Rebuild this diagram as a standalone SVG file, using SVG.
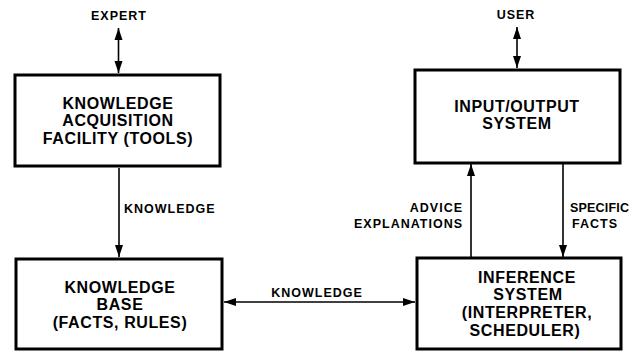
<svg xmlns="http://www.w3.org/2000/svg" width="632" height="353" viewBox="0 0 632 353">
<style>
.box{fill:#fff;stroke:#000;stroke-width:3}
.t{font-family:"Liberation Sans",Arial,sans-serif;font-weight:bold;font-size:16px;letter-spacing:0.6px;text-anchor:middle;fill:#000}
.l{font-family:"Liberation Sans",Arial,sans-serif;font-weight:bold;font-size:12.5px;letter-spacing:1px;fill:#000}
.c{fill:none;stroke:#000;stroke-width:1.6}
</style>
<defs>
<marker id="ah" markerUnits="userSpaceOnUse" markerWidth="12" markerHeight="10" viewBox="0 0 12 10" refX="12" refY="5" orient="auto-start-reverse">
<path d="M0,1 L12,5 L0,9 Z" fill="#000"/>
</marker>
</defs>
<rect width="632" height="353" fill="#fff"/>
<g id="connectors">
<line class="c" x1="118.5" y1="28" x2="118.5" y2="73" marker-start="url(#ah)" marker-end="url(#ah)"/>
<line class="c" x1="119" y1="168" x2="119" y2="257" marker-end="url(#ah)"/>
<line class="c" x1="224" y1="302" x2="415" y2="302" marker-start="url(#ah)" marker-end="url(#ah)"/>
<line class="c" x1="517" y1="27" x2="517" y2="68" marker-start="url(#ah)" marker-end="url(#ah)"/>
<line class="c" x1="471" y1="257" x2="471" y2="164" marker-end="url(#ah)"/>
<line class="c" x1="563" y1="164" x2="563" y2="257" marker-end="url(#ah)"/>
<text class="l" x="124" y="213">KNOWLEDGE</text>
<text class="l" x="317" y="297" text-anchor="middle">KNOWLEDGE</text>
<text class="l" x="463" y="212" text-anchor="end">ADVICE</text>
<text class="l" x="463" y="228" text-anchor="end">EXPLANATIONS</text>
<text class="l" x="570" y="212" style="letter-spacing:0.2px">SPECIFIC</text>
<text class="l" x="572" y="228">FACTS</text>
</g>
<g id="expert">
<text class="l" x="119" y="20" text-anchor="middle">EXPERT</text>
</g>
<g id="user">
<text class="l" x="516" y="19" text-anchor="middle">USER</text>
</g>
<g id="acquisition">
<rect class="box" x="15" y="75" width="205" height="91"/>
<text class="t" x="118" y="109">KNOWLEDGE</text>
<text class="t" x="118" y="126">ACQUISITION</text>
<text class="t" x="118" y="144">FACILITY (TOOLS)</text>
</g>
<g id="knowledge-base">
<rect class="box" x="16" y="259" width="206" height="90"/>
<text class="t" x="120" y="293">KNOWLEDGE</text>
<text class="t" x="120" y="310">BASE</text>
<text class="t" x="120" y="328">(FACTS, RULES)</text>
</g>
<g id="io-system">
<rect class="box" x="415" y="70" width="205" height="93"/>
<text class="t" x="517" y="112">INPUT/OUTPUT</text>
<text class="t" x="517" y="129">SYSTEM</text>
</g>
<g id="inference">
<rect class="box" x="417" y="258" width="204" height="91"/>
<text class="t" x="527" y="283">INFERENCE</text>
<text class="t" x="528" y="300">SYSTEM</text>
<text class="t" x="527" y="318">(INTERPRETER,</text>
<text class="t" x="525" y="336">SCHEDULER)</text>
</g>
</svg>
